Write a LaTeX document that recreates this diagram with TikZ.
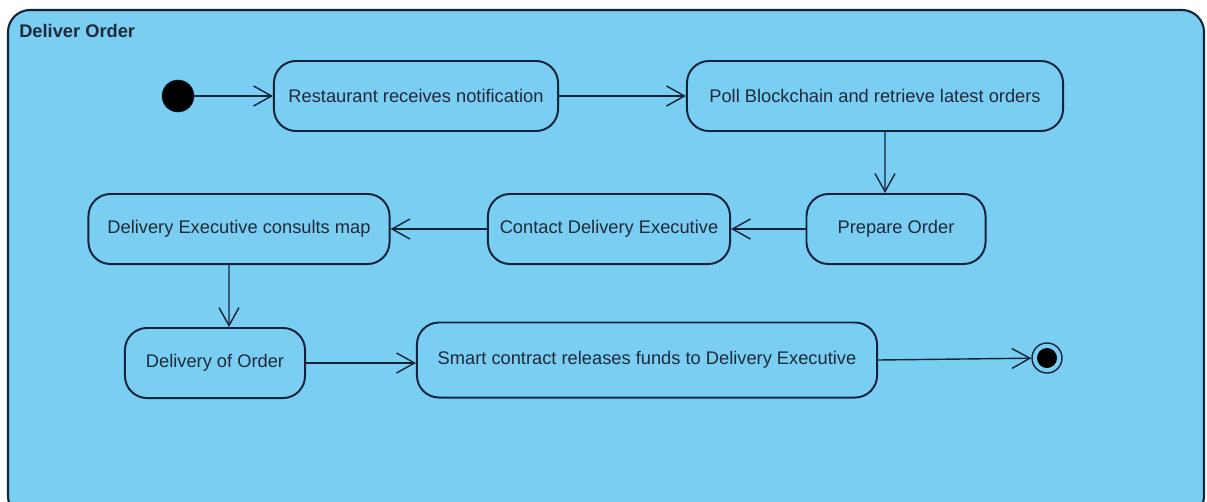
\documentclass[tikz,border=0pt]{standalone}
\usepackage{fontspec}
\setmainfont{Liberation Sans}
\usetikzlibrary{arrows.meta, positioning, calc}
\definecolor{SkyFill}{HTML}{7ACEF2}
\definecolor{NavyLine}{HTML}{13243A}
\definecolor{InkText}{HTML}{1E2A3A}

\tikzset{
  frame/.style={draw=NavyLine, line width=1.5pt, fill=SkyFill, rounded corners=0.55cm},
  act/.style={draw=NavyLine, line width=1.4pt, fill=SkyFill, rounded corners=0.55cm,
    minimum height=1.75cm, text=InkText, font=\fontsize{13}{15.6}\selectfont, inner sep=0pt},
  initnode/.style={circle, fill=black, draw=NavyLine, minimum size=0.8cm, inner sep=0pt},
  finalnode/.style={circle, draw=NavyLine, line width=1pt, fill=SkyFill, minimum size=0.75cm, inner sep=0pt},
  flow/.style={draw=NavyLine, line width=1pt, -{Straight Barb[length=0.45cm, width=0.5cm, line width=1pt]}}
}

\begin{document}
\begin{tikzpicture}[x=0.025cm, y=-0.025cm]
    \useasboundingbox (0,0) rectangle (1207,501);
    \clip (0,0) rectangle (1207,501);
    % outer activity frame
    \draw[frame] (8,10) rectangle (1204,518);
    \node[anchor=west, text=InkText, font=\fontsize{13}{15.6}\selectfont\bfseries, inner sep=0pt] (title) at (19,31) {Deliver Order};

    % nodes
    \node[initnode] (start) at (178,96) {};
    \node[act, minimum width=7.1cm] (notify) at (416,96) {Restaurant receives notification};
    \node[act, minimum width=9.4cm] (poll) at (875,96) {Poll Blockchain and retrieve latest orders};
    \node[act, minimum width=4.475cm] (prep) at (896,229) {Prepare Order};
    \node[act, minimum width=6.05cm] (contact) at (609,229) {Contact Delivery Executive};
    \node[act, minimum width=7.525cm] (consult) at (239,229) {Delivery Executive consults map};
    \node[act, minimum width=4.5cm] (deliv) at (215,363) {Delivery of Order};
    \node[act, minimum width=11.5cm, minimum height=1.875cm] (funds) at (647,360) {Smart contract releases funds to Delivery Executive};
    \node[finalnode] (stop) at (1047,358) {};
    \fill[black] (stop.center) circle (0.25cm);

    % transitions
    \draw[flow] (start) -- (notify);
    \draw[flow] (notify) -- (poll);
    \draw[flow] ([xshift=0.25cm]poll.south) -- ([xshift=-0.275cm]prep.north);
    \draw[flow] (prep) -- (contact);
    \draw[flow] (contact) -- (consult);
    \draw[flow] ([xshift=-0.25cm]consult.south) -- ([xshift=0.35cm]deliv.north);
    \draw[flow] (deliv.east) -- (deliv.east -| funds.west);
    \draw[flow] (funds.east) -- (stop);
\end{tikzpicture}
\end{document}
